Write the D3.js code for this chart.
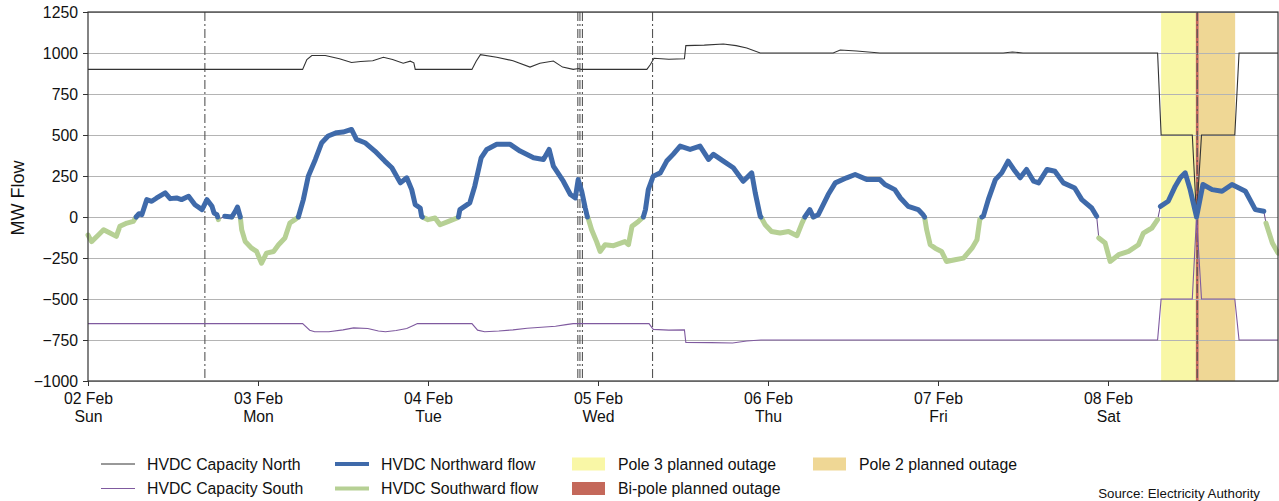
<!DOCTYPE html>
<html>
<head>
<meta charset="utf-8">
<script src="https://cdn.jsdelivr.net/npm/d3@7"></script>
<style>
  body { margin: 0; background: #fff; }
  text { font-family: "Liberation Sans", Arial, sans-serif; fill: #111; }
</style>
</head>
<body>
<script>
// hours after 02 Feb 00:00, value in MW
let capNorth = [
  [0, 900], [30.3, 900], [30.9, 960], [31.6, 985], [33.5, 985], [35.5, 965], [37.2, 942],
  [38.5, 948], [40.2, 953], [41.7, 974], [43, 960], [44.5, 938], [45.5, 950], [46, 940],
  [46.2, 900], [54.2, 900], [54.8, 950], [55.4, 990], [57.7, 974], [60, 953], [62.4, 914],
  [63.8, 937], [65.7, 951], [67, 914], [68.5, 900], [69.3, 905], [69.6, 900], [78.9, 900],
  [79.4, 930], [79.9, 968], [82, 962], [84.2, 965], [84.4, 1045], [87, 1048], [89.7, 1055],
  [91.5, 1045], [93, 1030], [94.9, 1000], [105.2, 1000], [106.2, 1018], [108.5, 1012],
  [111.8, 1000], [129.2, 1000], [130.5, 1006], [132, 1000], [151, 1000], [151.5, 500],
  [155.9, 500], [156.5, 0], [157.2, 500], [161.9, 500], [162.5, 1000], [168, 1000]
];

let capSouth = [
  [0, -650], [30.3, -650], [31.3, -690], [32, -700], [34, -700], [36, -688], [37.5, -676],
  [39.5, -680], [41, -695], [42, -700], [43.5, -692], [45, -680], [46, -660], [46.5, -650],
  [54.2, -650], [55, -690], [56, -700], [58, -695], [60, -688], [62, -678], [64, -672],
  [66, -666], [67.5, -656], [68.5, -650], [79.2, -650], [79.8, -685], [82, -690],
  [84.2, -688], [84.4, -765], [88, -766], [91, -768], [93, -756], [95, -750], [151, -750],
  [151.5, -500], [155.9, -500], [156.5, 0], [157.2, -500], [161.9, -500], [162.5, -750], [168, -750]
];

let flow = [
  [0, -110], [0.5, -150], [1.5, -108], [2.2, -78], [3.1, -98], [4, -118], [4.5, -57], [5.5, -37],
  [6.4, -27], [6.8, 0], [7.2, 20], [7.6, 14], [8.3, 106], [9, 96], [9.7, 116], [10.9, 147],
  [11.6, 112], [12.5, 116], [13.2, 106], [14.2, 126], [15.1, 75], [16.1, 45], [16.8, 106],
  [17.5, 65], [17.8, 24], [18.2, 14], [18.3, 0], [18.4, -16], [19.3, 4], [20.3, 0], [20.8, 35],
  [21.1, 61], [21.5, 0], [21.7, -78], [22.2, -150], [23.1, -190], [23.8, -210], [24.5, -282],
  [25.2, -220], [26.2, -210], [26.9, -169], [27.8, -128], [28.5, -37], [29.2, -16], [29.7, 0],
  [30.4, 106], [31.1, 249], [32.1, 351], [33, 453], [33.9, 494], [35.1, 514], [36, 518],
  [37.2, 534], [37.9, 473], [39.1, 453], [40.5, 402], [41.9, 341], [42.9, 300], [44.1, 208],
  [45, 239], [45.7, 167], [46.2, 75], [46.9, 55], [47.1, 4], [47.2, 0], [48, -16], [49, -6],
  [49.7, -47], [50.9, -27], [52.1, -6], [52.3, 0], [52.5, 45], [53.9, 86], [54.6, 188],
  [55.5, 360], [56.3, 412], [57.7, 443], [59.6, 443], [61, 402], [62.9, 361], [64.3, 351],
  [65.1, 412], [65.7, 310], [67.1, 218], [68.1, 137], [68.8, 116], [69.2, 228], [69.7, 157],
  [70.2, 55], [70.5, 0], [70.6, -6], [71.1, -78], [71.8, -150], [72.3, -210], [73, -169],
  [74.2, -175], [75.8, -150], [76.3, -169], [76.8, -57], [77.7, -27], [78.4, 0], [78.7, 45],
  [79.1, 167], [79.8, 249], [80.8, 269], [81.7, 341], [82.6, 382], [83.6, 432], [85, 412],
  [86.4, 432], [87.6, 351], [88.3, 382], [89.7, 341], [91.1, 300], [92.5, 218], [93.7, 269],
  [94.2, 147], [94.9, 4], [95, 0], [95.6, -47], [96.5, -88], [97.7, -98], [98.9, -88],
  [100.1, -114], [100.8, -37], [101.2, 0], [101.9, 45], [102.4, 0], [103.1, 14], [103.8, 75],
  [104.5, 137], [105.5, 208], [107.1, 239], [108.3, 259], [110, 228], [111.8, 228],
  [112.5, 198], [113.9, 167], [114.7, 116], [115.8, 65], [117.2, 45], [117.9, 14], [118.1, 0],
  [118.4, -78], [118.9, -169], [119.6, -190], [120.5, -210], [121.2, -271], [122.4, -261],
  [123.6, -251], [124.8, -190], [125.5, -139], [125.9, -16], [126.2, 0], [126.4, 4],
  [127.1, 106], [128.1, 228], [129, 269], [129.9, 341], [130.7, 290], [131.6, 239],
  [132.5, 290], [133.5, 218], [134.2, 208], [135.4, 290], [136.5, 279], [137.7, 208],
  [139.3, 177], [140.3, 106], [141.7, 55], [142.4, 4], [142.7, -128], [143.6, -159],
  [144.3, -271], [145.5, -230], [146.9, -210], [148.3, -169], [149, -98], [150.2, -67],
  [151, -16], [151.4, 65], [152.5, 96], [153.5, 188], [154.2, 239], [154.9, 269],
  [155.6, 167], [156.5, 0], [157.4, 198], [158.7, 167], [160.1, 157], [161.5, 198],
  [163.4, 157], [164.8, 45], [166, 35], [166.3, -37], [167.2, -159], [168, -220]
];

let dashLines = [16.5, 69.15, 69.45, 69.8, 79.7, 156.6];
let outages = [
  { from: 151.5, to: 156.4, color: "#f9f7a6" },
  { from: 156.8, to: 161.95, color: "#efd795" },
  { from: 156.4, to: 156.8, color: "#c4685a" }
];
let yTicks = [1250, 1000, 750, 500, 250, 0, -250, -500, -750, -1000];

let legendItems = [
  { label: "HVDC Capacity North", kind: "line", color: "#333", w: 1, col: 0, row: 0 },
  { label: "HVDC Capacity South", kind: "line", color: "#7f5a9f", w: 1, col: 0, row: 1 },
  { label: "HVDC Northward flow", kind: "line", color: "#3f6aaa", w: 4, col: 1, row: 0 },
  { label: "HVDC Southward flow", kind: "line", color: "#b6d094", w: 4, col: 1, row: 1 },
  { label: "Pole 3 planned outage", kind: "rect", color: "#f9f7a6", col: 2, row: 0 },
  { label: "Bi-pole planned outage", kind: "rect", color: "#c4685a", col: 2, row: 1 },
  { label: "Pole 2 planned outage", kind: "rect", color: "#efd795", col: 3, row: 0 }
];

function init() {
  let W = 1279, H = 501;
  let left = 88, right = 1278, top = 12, bottom = 381;
  let t0 = new Date(2025, 1, 2);
  let toDate = h => new Date(t0.getTime() + h * 3600e3);
  let fs = 15.8;

  let svg = d3.select("body").append("svg")
    .attr("width", W)
    .attr("height", H);

  let x = d3.scaleTime().domain([t0, toDate(168)]).range([left, right]);
  let y = d3.scaleLinear().domain([-1000, 1250]).range([bottom, top]);

  // outage shading
  svg.selectAll()
    .data(outages)
    .enter()
      .append("rect")
        .attr("x", d => x(toDate(d.from)))
        .attr("y", top)
        .attr("width", d => x(toDate(d.to)) - x(toDate(d.from)))
        .attr("height", bottom - top)
        .attr("fill", d => d.color);

  // horizontal grid
  svg.append("g")
    .attr("transform", `translate(${left},0)`)
    .call(d3.axisLeft(y).tickValues(yTicks).tickSize(-(right - left)).tickFormat(""))
    .call(g => g.select(".domain").remove())
    .call(g => g.selectAll("line").attr("stroke", "#b4b4b4").attr("stroke-width", 1.2));

  // dash-dot markers
  svg.selectAll()
    .data(dashLines)
    .enter()
      .append("line")
        .attr("x1", d => x(toDate(d))).attr("x2", d => x(toDate(d)))
        .attr("y1", top).attr("y2", bottom)
        .attr("stroke", "#555")
        .attr("stroke-width", 1.1)
        .attr("stroke-dasharray", "9,3,2,3");

  let line = d3.line()
    .x(d => x(toDate(d[0])))
    .y(d => y(d[1]));

  svg.append("path").datum(capNorth)
    .attr("d", line).attr("fill", "none").attr("stroke", "#333").attr("stroke-width", 1.1);
  svg.append("path").datum(capSouth)
    .attr("d", line).attr("fill", "none").attr("stroke", "#7f5a9f").attr("stroke-width", 1.1);

  // thin underlying flow, visible at the sign changes
  svg.append("path").datum(flow)
    .attr("d", line).attr("fill", "none").attr("stroke", "#6b4a8c").attr("stroke-width", 1);

  let south = d3.line().defined(d => d[1] <= 0).x(d => x(toDate(d[0]))).y(d => y(d[1]));
  let north = d3.line().defined(d => d[1] >= 0).x(d => x(toDate(d[0]))).y(d => y(d[1]));

  svg.append("path").datum(flow)
    .attr("d", south).attr("fill", "none").attr("stroke", "#b6d094")
    .attr("stroke-width", 5).attr("stroke-linejoin", "round").attr("stroke-linecap", "round");
  svg.append("path").datum(flow)
    .attr("d", north).attr("fill", "none").attr("stroke", "#3f6aaa")
    .attr("stroke-width", 5).attr("stroke-linejoin", "round").attr("stroke-linecap", "round");

  // frame
  svg.append("rect")
    .attr("x", left).attr("y", top)
    .attr("width", right - left).attr("height", bottom - top)
    .attr("fill", "none").attr("stroke", "#333").attr("stroke-width", 1.2);

  // axes
  let yAxis = svg.append("g")
    .attr("transform", `translate(${left},0)`)
    .call(d3.axisLeft(y).tickValues(yTicks).tickSize(5).tickPadding(5)
      .tickFormat(d => d < 0 ? "\u2212" + Math.abs(d) : d));
  yAxis.select(".domain").remove();
  yAxis.selectAll("text").attr("font-size", fs);
  yAxis.selectAll("line").attr("stroke", "#333");

  let days = d3.range(0, 7).map(i => d3.timeDay.offset(t0, i));
  let xAxis = svg.append("g")
    .attr("transform", `translate(0,${bottom})`)
    .call(d3.axisBottom(x).tickValues(days).tickSize(5).tickFormat(""));
  xAxis.select(".domain").remove();
  xAxis.selectAll("line").attr("stroke", "#333");
  xAxis.selectAll(".tick").append("text")
    .attr("y", 23).attr("text-anchor", "middle").attr("font-size", fs)
    .text(d => d3.timeFormat("%d %b")(d));
  xAxis.selectAll(".tick").append("text")
    .attr("y", 41).attr("text-anchor", "middle").attr("font-size", fs)
    .text(d => d3.timeFormat("%a")(d));

  svg.append("text")
    .attr("transform", "translate(24,198) rotate(-90)")
    .attr("text-anchor", "middle")
    .attr("font-size", 18)
    .text("MW Flow");

  // legend
  let colX = [101, 335, 572, 813];
  let rowY = [464, 488.5];
  let leg = svg.selectAll(".leg")
    .data(legendItems)
    .enter()
      .append("g")
        .attr("transform", d => `translate(${colX[d.col]},${rowY[d.row]})`);
  leg.filter(d => d.kind == "line").append("line")
    .attr("x1", 0).attr("x2", 34).attr("y1", 0).attr("y2", 0)
    .attr("stroke", d => d.color).attr("stroke-width", d => d.w);
  leg.filter(d => d.kind == "rect").append("rect")
    .attr("x", 0).attr("y", -6.5).attr("width", 33).attr("height", 13)
    .attr("fill", d => d.color);
  leg.append("text")
    .attr("x", 46).attr("y", 5.5).attr("font-size", fs)
    .text(d => d.label);

  svg.append("text")
    .attr("x", 1260).attr("y", 498)
    .attr("text-anchor", "end")
    .attr("font-size", 13.3)
    .text("Source: Electricity Authority");
}
init();
</script>
</body>
</html>
